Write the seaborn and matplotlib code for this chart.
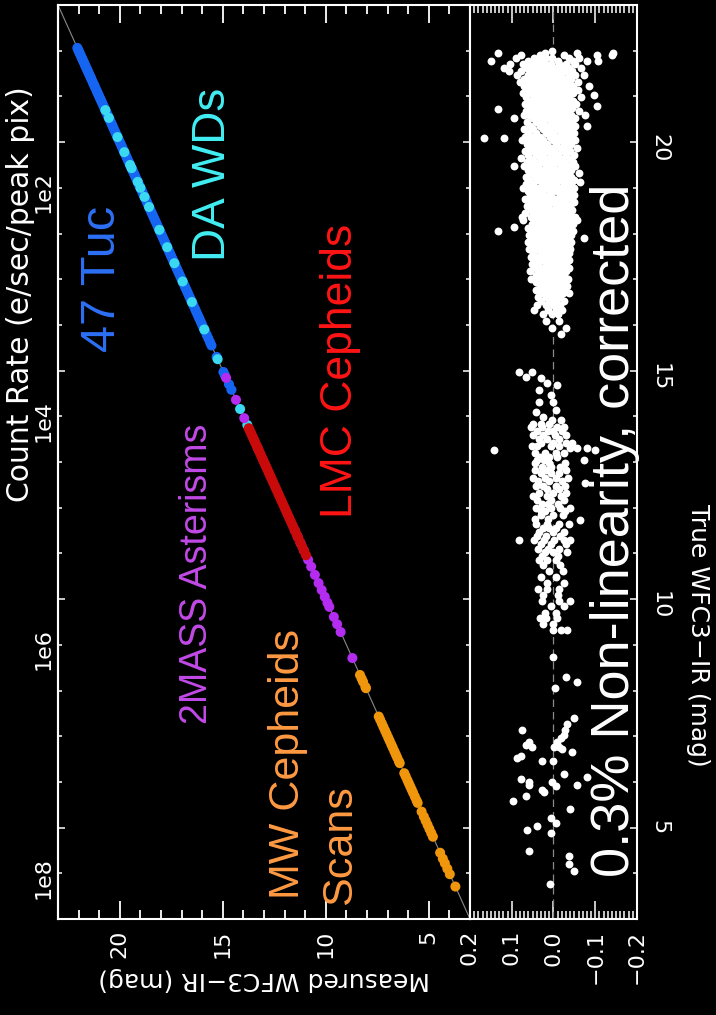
import numpy as np
import pandas as pd
import matplotlib
matplotlib.use("Agg")
import matplotlib.pyplot as plt
import seaborn as sns
from matplotlib.ticker import FixedLocator, MultipleLocator

# ---------------------------------------------------------------------------
# Main panel: stars along the one-to-one relation, grouped by calibration set
# (true magnitude of each star; measured ~ true at this scale)
# ---------------------------------------------------------------------------
tuc_mag = [22.06, 22.02, 21.98, 21.95, 21.91, 21.87, 21.84, 21.80, 21.77, 21.73,
           21.69, 21.66, 21.62, 21.58, 21.55, 21.51, 21.47, 21.43, 21.40, 21.36,
           21.31, 21.27, 21.24, 21.20, 21.15, 21.11, 21.07, 21.03, 20.98, 20.94,
           20.90, 20.86, 20.81, 20.77, 20.72, 20.68, 20.63, 20.59, 20.55, 20.50,
           20.46, 20.41, 20.37, 20.33, 20.28, 20.24, 20.19, 20.15, 20.10, 20.06,
           20.01, 19.97, 19.92, 19.88, 19.83, 19.79, 19.74, 19.69, 19.65, 19.60,
           19.56, 19.51, 19.46, 19.42, 19.37, 19.33, 19.28, 19.23, 19.19, 19.14,
           19.10, 19.05, 19.00, 18.95, 18.91, 18.86, 18.81, 18.77, 18.72, 18.67,
           18.63, 18.58, 18.53, 18.48, 18.44, 18.39, 18.34, 18.29, 18.25, 18.20,
           18.15, 18.10, 18.05, 18.01, 17.96, 17.91, 17.86, 17.81, 17.77, 17.72,
           17.67, 17.62, 17.57, 17.52, 17.48, 17.43, 17.38, 17.33, 17.28, 17.23,
           17.18, 17.13, 17.08, 17.03, 16.98, 16.93, 16.88, 16.83, 16.78, 16.73,
           16.68, 16.62, 16.57, 16.52, 16.46, 16.41, 16.35, 16.30, 16.24, 16.18,
           16.12, 16.06, 16.00, 15.93, 15.86, 15.78, 15.70, 15.62, 15.55, 15.30,
           14.97, 14.90, 14.70, 14.58, 13.30]
wd_mag = [20.70, 20.53, 20.11, 19.78, 19.50, 19.43, 19.13, 19.00, 18.80, 18.58,
          18.08, 17.70, 17.35, 16.95, 16.50, 15.90, 15.25, 14.16, 13.81]
asterism_mag = [14.84, 14.36, 13.96, 11.51, 11.37, 11.22, 11.07, 10.86, 10.71,
                10.53, 10.35, 10.20, 10.05, 9.92, 9.83, 9.61, 9.45, 9.28, 8.71]
lmc_mag = [13.74, 13.70, 13.66, 13.61, 13.57, 13.52, 13.48, 13.43, 13.38, 13.33,
           13.28, 13.24, 13.19, 13.14, 13.09, 13.04, 12.99, 12.94, 12.89, 12.84,
           12.78, 12.73, 12.68, 12.62, 12.56, 12.50, 12.44, 12.38, 12.31, 12.25,
           12.18, 12.12, 12.05, 11.98, 11.92, 11.85, 11.78, 11.71, 11.64, 11.58,
           11.50, 11.42, 11.34, 11.25, 11.15, 11.05, 10.96]
mw_mag = [8.34, 8.26, 8.19, 8.08, 8.05, 7.43, 7.36, 7.28, 7.20, 7.12, 7.05, 6.97,
          6.90, 6.82, 6.75, 6.67, 6.60, 6.53, 6.45, 6.41, 6.19, 6.12, 6.04, 5.97,
          5.90, 5.83, 5.76, 5.68, 5.60, 5.54, 5.35, 5.24, 5.15, 5.06, 4.97, 4.88,
          4.80, 4.45, 4.32, 4.22, 4.10, 3.98, 3.71]

sample_names = ["47 Tuc", "DA WDs", "2MASS Asterisms", "LMC Cepheids", "MW Cepheids"]
point_colors = ["#1565f2", "#3ad9f2", "#b42cf0", "#c80a0a", "#f0960c"]
text_colors = ["#2d70f5", "#42eef2", "#c24ae8", "#ff1414", "#ff9a42"]

# ---------------------------------------------------------------------------
# Residual panel: (true magnitude, residuals of the stars at that magnitude)
# ---------------------------------------------------------------------------
faint_rows = [
    (22.00, [0.004]),
    (21.96, [0.134, 0.021, -0.056, -0.143]),
    (21.90, [0.079, 0.032, -0.024, -0.104, -0.141]),
    (21.84, [0.091, 0.047, 0.018, 0.003, -0.036, -0.062]),
    (21.78, [0.150, 0.061, 0.040, 0.026, -0.011, -0.046, -0.081, -0.106]),
    (21.71, [0.103, 0.072, 0.055, 0.038, 0.021, 0.005, -0.013, -0.030, -0.052]),
    (21.63, [0.118, 0.064, 0.047, 0.031, 0.013, -0.002, -0.020, -0.037, -0.066]),
    (21.55, [0.107, 0.077, 0.056, 0.040, 0.023, 0.006, -0.010, -0.028, -0.044]),
    (21.47, [0.088, 0.062, 0.046, 0.029, 0.014, -0.003, -0.019, -0.036, -0.052, -0.074]),
    (21.39, [0.071, 0.054, 0.037, 0.021, 0.004, -0.012, -0.027, -0.043]),
    (21.31, [0.081, 0.063, 0.046, 0.029, 0.012, -0.005, -0.021, -0.036, -0.059]),
    (21.23, [0.070, 0.054, 0.038, 0.020, 0.003, -0.013, -0.030, -0.046, -0.085]),
    (21.15, [0.062, 0.046, 0.030, 0.012, -0.004, -0.021, -0.038, -0.058]),
    (21.07, [0.074, 0.055, 0.038, 0.021, 0.005, -0.012, -0.029, -0.046]),
    (21.02, [-0.096]),
    (20.99, [0.065, 0.047, 0.030, 0.013, -0.003, -0.020, -0.037, -0.066]),
    (20.91, [0.057, 0.040, 0.022, 0.006, -0.011, -0.028, -0.047]),
    (20.83, [0.068, 0.049, 0.032, 0.015, -0.002, -0.019, -0.036, -0.053]),
    (20.80, [-0.104]),
    (20.75, [0.060, 0.041, 0.024, 0.007, -0.010, -0.027, -0.044]),
    (20.72, [0.132]),
    (20.67, [0.066, 0.050, 0.033, 0.016, -0.001, -0.018, -0.035, -0.061]),
    (20.59, [0.071, 0.058, 0.041, 0.024, 0.008, -0.009, -0.026, -0.043, -0.076]),
    (20.52, [0.094, 0.049, 0.032, 0.015, -0.002, -0.019, -0.036, -0.052]),
    (20.44, [0.063, 0.041, 0.024, 0.007, -0.010, -0.027, -0.044]),
    (20.36, [0.056, 0.033, 0.016, -0.001, -0.018, -0.035, -0.051, -0.080]),
    (20.28, [0.071, 0.049, 0.025, 0.008, -0.009, -0.026, -0.043]),
    (20.20, [0.062, 0.041, 0.017, 0.000, -0.017, -0.034, -0.050]),
    (20.12, [0.069, 0.051, 0.033, 0.009, -0.008, -0.025, -0.042]),
    (20.09, [0.166, 0.118]),
    (20.04, [0.076, 0.059, 0.042, 0.025, 0.001, -0.016, -0.033, -0.052]),
    (19.96, [0.064, 0.050, 0.033, 0.016, -0.007, -0.024, -0.041]),
    (19.88, [0.058, 0.041, 0.024, 0.007, -0.015, -0.032, -0.056]),
    (19.80, [0.069, 0.049, 0.032, 0.015, -0.002, -0.023, -0.040]),
    (19.72, [0.061, 0.041, 0.024, 0.007, -0.010, -0.031, -0.048]),
    (19.65, [0.079]),
    (19.64, [0.055, 0.033, 0.016, -0.001, -0.018, -0.039]),
    (19.56, [0.064, 0.047, 0.025, 0.008, -0.009, -0.026, -0.047]),
    (19.48, [0.094, 0.071, 0.055, 0.038, 0.017, 0.000, -0.017, -0.034, -0.052]),
    (19.40, [0.062, 0.046, 0.029, 0.008, -0.009, -0.025, -0.042]),
    (19.32, [0.054, 0.037, 0.020, 0.000, -0.017, -0.034, -0.061]),
    (19.24, [0.066, 0.045, 0.028, 0.011, -0.008, -0.025, -0.042]),
    (19.16, [0.058, 0.036, 0.019, 0.002, -0.016, -0.033, -0.050]),
    (19.13, [-0.064]),
    (19.08, [0.066, 0.049, 0.027, 0.010, -0.007, -0.024, -0.041]),
    (19.00, [0.074, 0.057, 0.040, 0.018, 0.001, -0.016, -0.033, -0.049]),
    (18.92, [0.061, 0.048, 0.031, 0.009, -0.008, -0.025, -0.041]),
    (18.84, [0.056, 0.039, 0.022, 0.005, -0.016, -0.033, -0.048]),
    (18.76, [0.069, 0.047, 0.030, 0.013, -0.004, -0.024, -0.041]),
    (18.68, [0.059, 0.038, 0.021, 0.004, -0.013, -0.032, -0.049]),
    (18.60, [0.064, 0.046, 0.029, 0.012, -0.005, -0.022, -0.040]),
    (18.52, [0.053, 0.037, 0.020, 0.003, -0.014, -0.031, -0.045]),
    (18.44, [0.069, 0.045, 0.028, 0.011, -0.006, -0.023, -0.039]),
    (18.36, [0.076, 0.053, 0.036, 0.019, 0.002, -0.015, -0.032, -0.051]),
    (18.29, [0.074, 0.044, 0.027, 0.010, -0.007, -0.024, -0.040, -0.056]),
    (18.21, [0.052, 0.035, 0.018, 0.001, -0.016, -0.033, -0.046]),
    (18.15, [0.094]),
    (18.13, [0.060, 0.043, 0.026, 0.009, -0.008, -0.025, -0.040]),
    (18.05, [0.134, 0.051, 0.034, 0.017, 0.000, -0.017, -0.034, -0.047]),
    (17.97, [0.058, 0.042, 0.025, 0.008, -0.009, -0.026, -0.041]),
    (17.90, [-0.072]),
    (17.89, [0.050, 0.033, 0.016, -0.001, -0.018, -0.035]),
    (17.81, [0.061, 0.041, 0.024, 0.007, -0.010, -0.027, -0.042]),
    (17.73, [0.052, 0.032, 0.015, -0.002, -0.019, -0.036]),
    (17.65, [0.058, 0.040, 0.023, 0.006, -0.011, -0.028, -0.040]),
    (17.57, [0.049, 0.031, 0.014, -0.003, -0.020, -0.036]),
    (17.49, [0.054, 0.039, 0.022, 0.005, -0.012, -0.029]),
    (17.41, [0.046, 0.030, 0.013, -0.004, -0.021, -0.037]),
    (17.33, [0.051, 0.036, 0.019, 0.002, -0.013, -0.030]),
    (17.25, [0.043, 0.027, 0.010, -0.007, -0.023, -0.036]),
    (17.17, [0.056, 0.035, 0.018, 0.001, -0.016, -0.031]),
    (17.09, [0.043, 0.026, 0.009, -0.008, -0.024]),
    (17.01, [0.055, 0.034, 0.017, 0.000, -0.017, -0.034]),
    (16.93, [0.041, 0.024, 0.007, -0.010, -0.026]),
    (16.85, [0.033, 0.016, -0.001, -0.018, -0.033]),
    (16.77, [0.041, 0.024, 0.007, -0.010, -0.026]),
    (16.69, [0.029, 0.012, -0.005, -0.022, -0.037]),
    (16.61, [0.036, 0.019, 0.002, -0.015]),
    (16.52, [0.029, 0.011, -0.006, -0.026]),
    (16.43, [0.039, 0.018, 0.001, -0.016]),
    (16.33, [0.046, 0.012, -0.005, -0.021]),
    (16.23, [0.024, 0.004, -0.011]),
    (16.08, [0.019, -0.013]),
    (15.93, [0.004, -0.029]),
    (15.80, [-0.017]),
]

mid_rows = [
    (14.98, [0.083, 0.051]),
    (14.87, [0.067]),
    (14.83, [0.031]),
    (14.72, [0.015]),
    (14.69, [-0.009]),
    (14.58, [0.035]),
    (14.47, [0.007]),
    (14.32, [0.035, 0.000]),
    (14.14, [-0.005]),
    (14.10, [0.043]),
    (13.98, [0.024]),
    (13.92, [0.003, -0.017]),
    (13.84, [0.050, 0.030, 0.010]),
    (13.76, [0.055, 0.027, -0.009, -0.025]),
    (13.68, [0.040, 0.012, 0.000, -0.020]),
    (13.58, [0.048, 0.025, -0.003, -0.030]),
    (13.50, [0.035, 0.015, -0.013]),
    (13.42, [0.030, 0.000, -0.030, -0.045]),
    (13.35, [0.052, 0.040, 0.007, -0.013]),
    (13.30, [-0.040, -0.056, -0.080]),
    (13.26, [0.142, -0.100]),
    (13.20, [0.045, 0.020, -0.005, -0.025]),
    (13.12, [0.033, 0.010, -0.008]),
    (13.05, [0.040, 0.022, -0.072]),
    (12.98, [0.045, 0.010, -0.028]),
    (12.90, [0.027, 0.005, -0.015]),
    (12.82, [0.045, 0.018, -0.030]),
    (12.75, [0.030, 0.007, -0.012]),
    (12.66, [0.050, 0.020, -0.005, -0.035]),
    (12.58, [0.038, 0.010, -0.020]),
    (12.53, [-0.076]),
    (12.48, [0.043, 0.025, -0.005, -0.028]),
    (12.40, [0.015, -0.012]),
    (12.33, [0.035, 0.000, -0.030]),
    (12.25, [0.048, 0.015, -0.018]),
    (12.17, [0.040, 0.005, -0.025]),
    (12.08, [0.028, 0.012, -0.010]),
    (12.00, [0.043, 0.007, -0.015, -0.040]),
    (11.92, [0.030, 0.020, -0.028]),
    (11.84, [0.031, 0.000, -0.022]),
    (11.76, [0.045, 0.012]),
    (11.73, [-0.064]),
    (11.65, [0.043, 0.015, -0.013, -0.036]),
    (11.55, [0.025, 0.010, -0.005]),
    (11.46, [0.035, 0.002, -0.025]),
    (11.38, [0.040, 0.018, -0.015]),
    (11.29, [0.083, 0.047, 0.023, -0.001, -0.024, -0.040]),
    (11.20, [0.030, 0.005, -0.030]),
    (11.10, [0.038, 0.012, -0.013]),
    (11.03, [0.020, 0.000, -0.032]),
    (10.95, [0.027, -0.010]),
    (10.86, [0.035, 0.015, -0.005]),
    (10.75, [0.025, -0.015]),
    (10.62, [0.010, -0.022]),
    (10.48, [0.030, -0.005]),
    (10.35, [0.015, -0.025]),
    (10.22, [0.037, 0.015, -0.013]),
    (10.08, [0.025, -0.010]),
    (9.95, [0.027, -0.013, -0.040]),
    (9.84, [0.007, -0.025]),
    (9.70, [0.020, -0.005]),
    (9.58, [0.033, 0.018, -0.008]),
    (9.45, [0.025, 0.000]),
    (9.32, [0.000, -0.017, -0.032]),
]

bright_rows = [
    (8.74, [0.000]),
    (8.30, [-0.029]),
    (8.18, [-0.056]),
    (8.05, [-0.004]),
    (7.40, [-0.048]),
    (7.27, [-0.032]),
    (7.14, [0.075, -0.028]),
    (7.03, [-0.024]),
    (6.95, [-0.017]),
    (6.87, [0.059, -0.009]),
    (6.80, [0.067]),
    (6.77, [0.051, -0.001, -0.013]),
    (6.72, [-0.021]),
    (6.65, [-0.044]),
    (6.56, [0.079]),
    (6.52, [0.087]),
    (6.46, [0.027, 0.000]),
    (6.18, [-0.025]),
    (6.11, [-0.080]),
    (6.07, [0.079]),
    (6.00, [0.059, 0.003]),
    (5.93, [0.059, -0.056]),
    (5.91, [-0.005]),
    (5.83, [0.027]),
    (5.78, [0.023]),
    (5.69, [0.067]),
    (5.58, [0.098]),
    (5.40, [-0.040]),
    (5.22, [0.005]),
    (5.11, [-0.005]),
    (5.04, [0.039]),
    (4.95, [0.063]),
    (4.89, [0.007]),
    (4.49, [0.059]),
    (4.37, [-0.036]),
    (4.20, [-0.036]),
    (4.05, [-0.049]),
    (3.77, [0.009]),
]

# Count-rate scale: decades of e/sec in the peak pixel, with the magnitude
# that corresponds to 1 e/sec
count_rate_decades = [2, 4, 6, 8]
count_rate_labels = ["1e2", "1e4", "1e6", "1e8"]
mag_at_unit_rate = 23.9

mag_major = [5, 10, 15, 20]
resid_major = [0.2, 0.1, 0.0, -0.1, -0.2]
resid_labels = ["0.2", "0.1", "0.0", "\u22120.1", "\u22120.2"]

# ---------------------------------------------------------------------------
sns.set_theme(style="ticks", rc={
    "figure.facecolor": "black",
    "axes.facecolor": "black",
    "axes.edgecolor": "white",
    "axes.labelcolor": "white",
    "xtick.color": "white",
    "ytick.color": "white",
    "text.color": "white",
    "axes.linewidth": 1.5,
})
plt.rcParams["font.family"] = ["DejaVu Sans"]

W, H = 716, 1015
fig = plt.figure(figsize=(W / 100, H / 100), dpi=100)
ax = fig.add_axes([58 / W, 96 / H, 412 / W, 914 / H])
axr = fig.add_axes([470 / W, 96 / H, 167 / W, 914 / H])

# main panel data frame, drawn in group order
frames = []
for name, mags in zip(sample_names, [tuc_mag, wd_mag, asterism_mag, lmc_mag, mw_mag]):
    frames.append(pd.DataFrame({"measured": mags, "true": mags, "sample": name}))
main_df = pd.concat(frames, ignore_index=True)

ax.plot([23, 3], [23, 3], color="#8a8a8a", lw=0.8, zorder=1)
sns.scatterplot(data=main_df, x="measured", y="true", hue="sample",
                hue_order=sample_names, palette=point_colors, s=52,
                linewidth=0, legend=False, ax=ax, zorder=3)

ax.set_xlim(23, 3)
ax.set_ylim(3, 23)
ax.xaxis.set_major_locator(FixedLocator(mag_major))
ax.xaxis.set_minor_locator(MultipleLocator(1))
ax.yaxis.set_major_locator(FixedLocator(mag_major))
ax.yaxis.set_minor_locator(MultipleLocator(1))
ax.tick_params(axis="x", which="both", direction="in", top=True, bottom=True,
               labelsize=16, labelrotation=90, pad=8, width=1.3)
ax.tick_params(axis="x", which="major", length=13)
ax.tick_params(axis="x", which="minor", length=6.5)
ax.tick_params(axis="y", which="both", direction="in", left=True, right=True,
               labelleft=False, labelright=False, width=1.1)
ax.tick_params(axis="y", which="major", length=5)
ax.tick_params(axis="y", which="minor", length=3)
ax.set_xlabel("Measured WFC3\u2212IR (mag)", fontsize=18, rotation=180, labelpad=6)
ax.set_ylabel("")

sec = ax.secondary_yaxis(
    "left",
    functions=(lambda m: (mag_at_unit_rate - np.asarray(m)) / 2.5,
               lambda d: mag_at_unit_rate - 2.5 * np.asarray(d)))
sec.set_yticks(count_rate_decades)
sec.set_yticklabels(count_rate_labels, va="center")
sec.tick_params(length=0, labelsize=16, labelrotation=90, pad=3, colors="white")
sec.set_ylabel("Count Rate (e/sec/peak pix)", fontsize=21.5, color="white",
               va="center")
sec.yaxis.set_label_coords(-0.092, 0.684, transform=ax.transAxes)

# annotations of the calibration samples
label_spots = [(20.85, 17.0, 35), (15.5, 19.3, 33), (16.25, 10.55, 27),
               (9.3, 15.0, 32), (11.85, 6.4, 31)]
for name, tc, (x, y, fs) in zip(sample_names, text_colors, label_spots):
    ax.text(x, y, name, rotation=90, ha="center", va="center", color=tc,
            fontsize=fs, family="Liberation Sans")
ax.text(9.3, 4.62, "Scans", rotation=90, ha="center", va="center",
        color=text_colors[4], fontsize=31, family="Liberation Sans")

# residual panel
res_records = []
for rows in (faint_rows, mid_rows, bright_rows):
    for mag, resids in rows:
        for r in resids:
            res_records.append((r, mag))
res_df = pd.DataFrame(res_records, columns=["resid", "true"])

axr.axvline(0, color="#8a8a8a", lw=0.9, ls=(0, (6, 4)), zorder=1)
sns.scatterplot(data=res_df, x="resid", y="true", color="white", s=32,
                linewidth=0, ax=axr, zorder=3)
axr.set_xlim(0.2, -0.2)
axr.set_ylim(3, 23)
axr.set_xticks(resid_major)
axr.set_xticklabels(resid_labels)
axr.xaxis.set_minor_locator(MultipleLocator(0.01))
axr.tick_params(axis="x", which="both", direction="in", top=True, bottom=True,
                labelsize=16, labelrotation=90, pad=8, width=1.1)
axr.tick_params(axis="x", which="major", length=13)
axr.tick_params(axis="x", which="minor", length=6)
axr.yaxis.set_major_locator(FixedLocator(mag_major))
axr.yaxis.set_minor_locator(MultipleLocator(1))
axr.tick_params(axis="y", which="both", direction="in", left=False, right=True,
                labelleft=False, labelright=True, labelsize=16, labelrotation=270,
                pad=9, width=1.1)
axr.tick_params(axis="y", which="major", length=5)
axr.tick_params(axis="y", which="minor", length=3)
axr.set_xlabel("")
axr.yaxis.set_label_position("right")
axr.set_ylabel("True WFC3\u2212IR (mag)", fontsize=18, rotation=270, va="center")
axr.yaxis.set_label_coords(1.365, 0.31)
axr.text(-0.148, 11.5, "0.3% Non-linearity, corrected", rotation=90,
         ha="center", va="center", color="white", fontsize=39,
         family="Liberation Sans")

fig.savefig("out.png", dpi=100, facecolor="black")
